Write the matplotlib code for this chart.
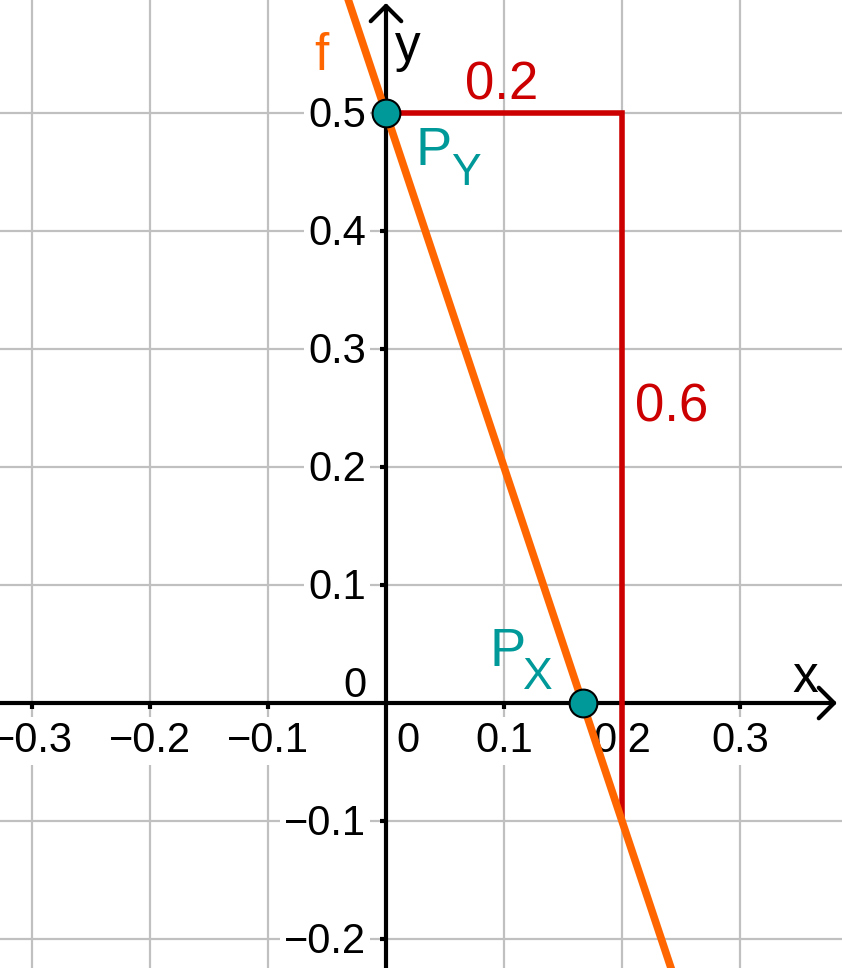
import matplotlib
matplotlib.use('Agg')
import matplotlib.pyplot as plt

plt.rcParams['font.family'] = ['Liberation Sans', 'DejaVu Sans']

# ── graphics view (pixels -> data: 1180 px per unit, origin at px 386/703) ──
PX = 1180.0
X0_PX, Y0_PX = 386, 703
W_PX, H_PX = 842, 968

x_min, x_max = -X0_PX / PX, (W_PX - X0_PX) / PX
y_min, y_max = (Y0_PX - H_PX) / PX, Y0_PX / PX

# ── data ──────────────────────────────────────────────────────────────────────
x_ticks = [-0.3, -0.2, -0.1, 0.1, 0.2, 0.3]
x_tick_labels = ['−0.3', '−0.2', '−0.1', '0.1', '0.2', '0.3']
y_ticks = [-0.2, -0.1, 0.1, 0.2, 0.3, 0.4, 0.5]
y_tick_labels = ['−0.2', '−0.1', '0.1', '0.2', '0.3', '0.4', '0.5']

# f: y = -3x + 0.5 (two points outside the view, clipped by the axes)
f_x = [-0.1, 0.3]
f_y = [0.8, -0.4]

# intercept points
py_x, py_y = 0.0, 0.5
px_x, px_y = 1 / 6, 0.0

# slope triangle: run 0.2, rise 0.6
tri_x = [0.0, 0.2, 0.2]
tri_y = [0.5, 0.5, -0.1]
run_label = '0.2'
rise_label = '0.6'

ORANGE = '#ff6600'
RED = '#cc0000'
TEAL = '#009999'
GRID = '#c0c0c0'


def d(xp, yp):
    """pixel position -> data coordinates"""
    return (xp - X0_PX) / PX, (Y0_PX - yp) / PX


fig = plt.figure(figsize=(W_PX / 100, H_PX / 100), dpi=100)
ax = fig.add_axes([0, 0, 1, 1])
ax.set_xlim(x_min, x_max)
ax.set_ylim(y_min, y_max)
ax.axis('off')

# ── grid ──────────────────────────────────────────────────────────────────────
for gx in x_ticks:
    ax.axvline(gx, color=GRID, lw=1.6, zorder=0)
for gy in y_ticks:
    ax.axhline(gy, color=GRID, lw=1.6, zorder=0)

# ── tick labels (white background cuts the grid) ─────────────────────────────
lab_kw = dict(fontsize=30, color='black', zorder=1,
              bbox=dict(fc='white', ec='none', pad=3))
for t, s in zip(x_ticks, x_tick_labels):
    ax.text(t, d(0, 752)[1], s, ha='center', va='baseline', **lab_kw)
for t, s in zip(y_ticks, y_tick_labels):
    ax.text(d(366, 0)[0], t - 14 / PX, s, ha='right', va='baseline', **lab_kw)
ax.text(*d(408, 752), '0', ha='center', va='baseline', **lab_kw)
ax.text(*d(355, 697), '0', ha='center', va='baseline', **lab_kw)

# ── axes with open arrow heads ───────────────────────────────────────────────
arrow = dict(arrowstyle='->,head_length=0.55,head_width=0.55', lw=3,
             color='black', shrinkA=0, shrinkB=0, mutation_scale=20)
ax.annotate('', xy=d(837, Y0_PX), xytext=(x_min, 0), arrowprops=arrow,
            zorder=2)
ax.annotate('', xy=d(X0_PX, 3), xytext=(0, y_min), arrowprops=arrow,
            zorder=2)
ax.plot(x_ticks, [0] * len(x_ticks), ls='none', marker=3, ms=4.5, mew=3,
        color='black', zorder=2)
ax.plot([0] * len(y_ticks), y_ticks, ls='none', marker=0, ms=4.5, mew=3,
        color='black', zorder=2)
ax.text(*d(805, 692), 'x', fontsize=37, ha='center', va='baseline')
ax.text(*d(408, 61), 'y', fontsize=37, ha='center', va='baseline')

# ── slope triangle ────────────────────────────────────────────────────────────
ax.plot(tri_x, tri_y, color=RED, lw=4, solid_joinstyle='miter', zorder=3)
ax.text(*d(502, 100), run_label, color=RED, fontsize=38,
        ha='center', va='baseline')
ax.text(*d(672, 421), rise_label, color=RED, fontsize=38,
        ha='center', va='baseline')

# ── function f ────────────────────────────────────────────────────────────────
ax.plot(f_x, f_y, color=ORANGE, lw=5.5, zorder=4)
ax.text(*d(321, 70), 'f', color=ORANGE, fontsize=37,
        ha='center', va='baseline')

# ── points ────────────────────────────────────────────────────────────────────
ax.plot([py_x, px_x], [py_y, px_y], ls='none', marker='o', ms=20,
        mfc=TEAL, mec='black', mew=1.5, zorder=5)
ax.text(*d(416, 165), 'P', color=TEAL, fontsize=39, ha='left', va='baseline')
ax.text(*d(451, 185), 'Y', color=TEAL, fontsize=32, ha='left', va='baseline')
ax.text(*d(489, 666), 'P', color=TEAL, fontsize=39, ha='left', va='baseline')
ax.text(*d(523, 689), 'X', color=TEAL, fontsize=32, ha='left', va='baseline')

fig.savefig('out.png', dpi=100)
